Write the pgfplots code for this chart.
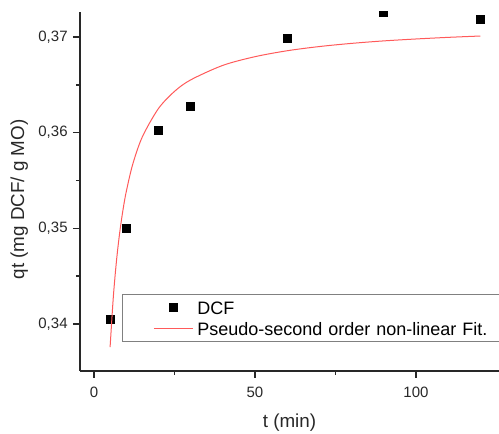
\documentclass[border=0pt]{standalone}
\usepackage{fontspec}
\setmainfont{Liberation Sans}
\usepackage{pgfplots}
\pgfplotsset{compat=1.18}

\definecolor{fitred}{RGB}{255,90,90}
\definecolor{axgray}{RGB}{40,40,40}

\pgfplotsset{
    shortline legend/.style={legend image code/.code={%
        \path (0pt,0pt) (35pt,0pt);
        \draw[##1] (15.5pt,0pt) -- (35pt,0pt);}},
    squaremark legend/.style={legend image code/.code={%
        \path (0pt,0pt) (35pt,0pt);
        \draw[mark repeat=2,mark phase=2,##1] plot coordinates {(15.5pt,0pt) (25.25pt,0pt) (35pt,0pt)};}},
}

% measured data (t in min, qt in mg DCF / g MO)
\pgfplotstableread{
t   qt
5   0.3405
10  0.3500
20  0.3602
30  0.3627
60  0.3698
90  0.3726
120 0.3718
}\dcfdata

% pseudo-second order fit
\pgfplotstableread{
t   qt
5   0.33758
6   0.34282
7   0.34666
8   0.34960
9   0.35192
10  0.35380
12  0.35666
15  0.35955
20  0.36251
25  0.36431
30  0.36551
40  0.36703
50  0.36794
60  0.36856
70  0.36900
80  0.36933
90  0.36959
100 0.36979
110 0.36996
120 0.37010
}\fitdata

\begin{document}
\fontsize{7.5pt}{9pt}\selectfont
\begin{tikzpicture}
\begin{axis}[
    name=ax,
    scale only axis,
    width=209.5pt,
    height=179.5pt,
    xmin=-4.35, xmax=125.8,
    ymin=0.33509, ymax=0.37261,
    clip marker paths=true,
    axis lines*=left,
    axis line style={axgray, line width=0.7pt},
    tick style={axgray, line width=0.7pt},
    tick align=outside,
    major tick length=3.5pt,
    minor tick length=2pt,
    xtick={0,50,100},
    ytick={0.34,0.35,0.36,0.37},
    minor tick num=1,
    /pgf/number format/assume math mode=true,
    /pgf/number format/use comma,
    yticklabel style={/pgf/number format/fixed, /pgf/number format/precision=2, /pgf/number format/fixed zerofill, text=axgray},
    xticklabel style={text=axgray, yshift=-2pt},
    scaled y ticks=false,
    xlabel={t (min)},
    ylabel={qt (mg DCF/ g MO)},
    label style={text=axgray, font=\fontsize{9.4pt}{11pt}\selectfont},
    xlabel style={yshift=-2.5pt},
    ylabel style={yshift=0pt, xshift=-4pt},
    legend cell align=left,
    legend style={
        at={(rel axis cs:0.1,0.2145)}, anchor=north west,
        draw=gray, line width=0.5pt, fill=white,
        font=\fontsize{9pt}{10pt}\selectfont,
        inner xsep=0pt, inner ysep=2pt,
        row sep=1.7pt,
        nodes={inner ysep=0pt, text height=7.8pt, text depth=1pt},
        text width=165pt,
    },
]
\addplot[only marks, mark=square*, mark size=2pt, black, squaremark legend] table[x=t, y=qt] {\dcfdata};
\addlegendentry{DCF}
\addplot[fitred, line width=0.5pt, smooth, shortline legend] table[x=t, y=qt] {\fitdata};
\addlegendentry{Pseudo-second order non-linear Fit.}
\end{axis}
\pgfresetboundingbox
\path[use as bounding box] ([xshift=-40pt,yshift=-31.5pt]ax.south west) rectangle ([yshift=6pt]ax.north east);
\end{tikzpicture}
\end{document}
